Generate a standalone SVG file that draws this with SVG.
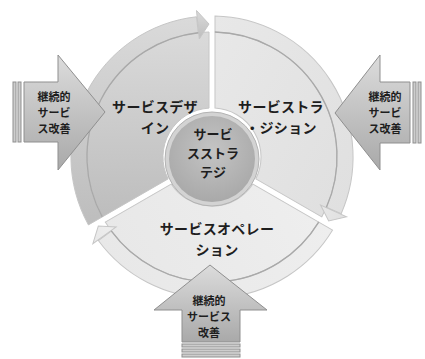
<svg xmlns="http://www.w3.org/2000/svg" width="425" height="359" viewBox="0 0 425 359">
<defs>
<style>
.lbl{font-family:"Noto Sans CJK JP","Noto Sans",sans-serif;font-weight:bold;fill:#1e1e1e;text-anchor:middle}
.seg{font-size:14px;letter-spacing:0.3px}
.ctr{font-size:13px}
.arw{font-size:11px}
.edge{stroke:#c6c6c6;stroke-width:1}
.band-line{fill:none;stroke:#a9a9a9;stroke-width:1.3}
.ar{stroke:#8f8f8f;stroke-width:1}
.stripe{fill:#cdcdcd;stroke:#8f8f8f;stroke-width:1}
</style>
<linearGradient id="gL" x1="0" y1="0" x2="0" y2="1">
<stop offset="0" stop-color="#dadada"/><stop offset="1" stop-color="#bdbdbd"/>
</linearGradient>
<linearGradient id="gR" x1="0" y1="0" x2="0" y2="1">
<stop offset="0" stop-color="#e0e0e0"/><stop offset="1" stop-color="#e8e8e8"/>
</linearGradient>
<linearGradient id="gB" x1="0" y1="0" x2="0" y2="1">
<stop offset="0" stop-color="#e8e8e8"/><stop offset="1" stop-color="#eeeeee"/>
</linearGradient>
<radialGradient id="gC" cx="0.5" cy="0.4" r="0.6">
<stop offset="0" stop-color="#c4c4c4"/><stop offset="1" stop-color="#a9a9a9"/>
</radialGradient>
<linearGradient id="gA" x1="0" y1="0" x2="0" y2="1">
<stop offset="0" stop-color="#dcdcdc"/><stop offset="1" stop-color="#a9a9a9"/>
</linearGradient>
<g id="segShape">
<path class="edge" d="M 102.25 216.9 A 125 125 0 0 1 209 32 L 209 108.1 A 49 49 0 0 0 168.1 178.9 Z"/>
<path class="edge" d="M 88.4 224.9 A 141 141 0 0 1 196.5 16.8 L 198.3 32.75 A 125 125 0 0 0 102.25 216.9 Z"/>
<path class="edge" d="M 196.5 10.5 L 209 24 L 199.3 39 Z"/>
<path class="band-line" d="M 102.25 216.9 A 125 125 0 0 1 198.3 32.75"/>
</g>
</defs>
<rect width="425" height="359" fill="#ffffff"/>

<g id="design">
<use href="#segShape" fill="url(#gL)"/>
<text class="lbl seg" x="155" y="112">サービスデザ<tspan x="155" dy="20.5">イン</tspan></text>
</g>

<g id="strategy">
<use href="#segShape" fill="url(#gR)" transform="rotate(120 212 157)"/>
<text class="lbl seg" x="281" y="112">サービストラ<tspan x="281" dy="20.5">・ジション</tspan></text>
</g>

<g id="operation">
<use href="#segShape" fill="url(#gB)" transform="rotate(240 212 157)"/>
<text class="lbl seg" x="217" y="234">サービスオペレー<tspan x="217" dy="20.5">ション</tspan></text>
</g>

<g id="core">
<circle cx="212" cy="159" r="47" fill="#d3d3d3" stroke="#b3b3b3" stroke-width="1"/>
<circle cx="212" cy="159" r="43" fill="url(#gC)"/>
<text class="lbl ctr" x="213" y="139">サービ<tspan x="213" dy="19">スストラ</tspan><tspan x="213" dy="19">テジ</tspan></text>
</g>

<g id="csi-left">
<rect class="stripe" x="13" y="82" width="3" height="60"/>
<rect class="stripe" x="18" y="82" width="3" height="60"/>
<polygon class="ar" fill="url(#gA)" points="24,82 58,82 58,55 105,112 58,170 58,142 24,142"/>
<text class="lbl arw" x="54" y="101">継続的<tspan x="54" dy="16">サービ</tspan><tspan x="54" dy="16">ス改善</tspan></text>
</g>

<g id="csi-right">
<rect class="stripe" x="413" y="82" width="3" height="61"/>
<rect class="stripe" x="418" y="82" width="3" height="61"/>
<polygon class="ar" fill="url(#gA)" points="410,82 380,82 380,55 335,113 380,170 380,143 410,143"/>
<text class="lbl arw" x="385" y="101">継続的<tspan x="385" dy="16">サービ</tspan><tspan x="385" dy="16">ス改善</tspan></text>
</g>

<g id="csi-bottom">
<rect class="stripe" x="182" y="344" width="58" height="3"/>
<rect class="stripe" x="182" y="349" width="58" height="3"/>
<rect class="stripe" x="182" y="354" width="58" height="3"/>
<polygon class="ar" fill="url(#gA)" points="182,342 182,310 154,310 210,265 267,310 240,310 240,342"/>
<text class="lbl arw" x="209" y="305">継続的<tspan x="209" dy="16">サービス</tspan><tspan x="209" dy="16">改善</tspan></text>
</g>

<g id="connectors"></g>
</svg>
